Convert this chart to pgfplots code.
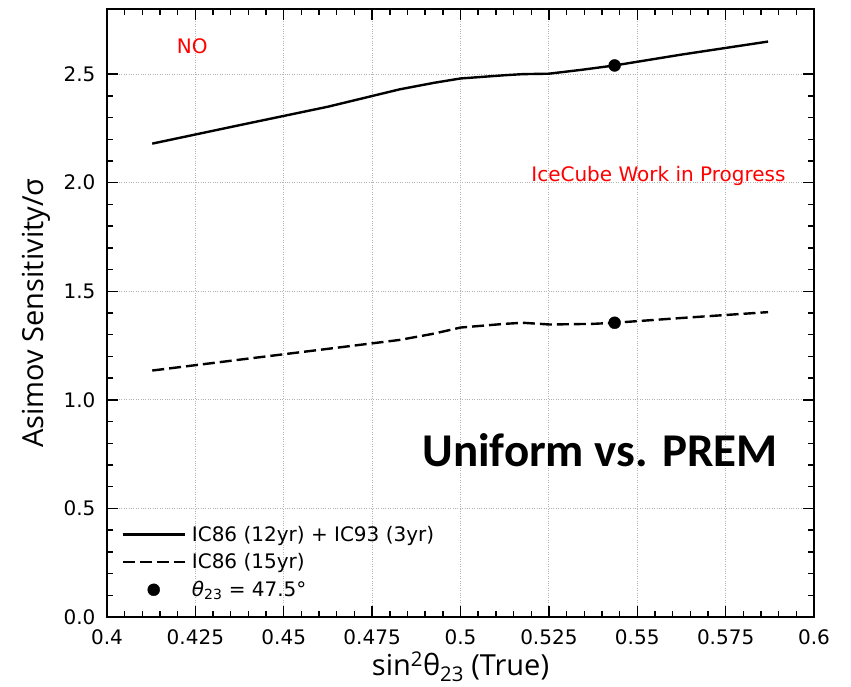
\documentclass[border=0pt]{standalone}
\usepackage{fontspec}
\setmainfont{DejaVu Sans}
\newfontfamily\opensans{Open Sans}
\newfontfamily\carlito{Carlito}
\usepackage{pgfplots}
\pgfplotsset{compat=1.18}
\pgfplotsset{
    longline/.style={legend image code/.code={\draw[##1] (0pt,0pt) -- (62pt,0pt);}},
    dotlegend/.style={legend image code/.code={\fill[black] (31pt,0pt) circle (6pt);}},
}

\begin{document}
\begin{tikzpicture}
\begin{axis}[
    scale only axis,
    width=707pt, height=608pt,
    xmin=0.4, xmax=0.6, ymin=0, ymax=2.8,
    xtick={0.4,0.425,0.45,0.475,0.5,0.525,0.55,0.575,0.6},
    xticklabels={0.4,0.425,0.45,0.475,0.5,0.525,0.55,0.575,0.6},
    ytick={0,0.5,1,1.5,2,2.5},
    yticklabels={0.0,0.5,1.0,1.5,2.0,2.5},
    minor x tick num=4, minor y tick num=4,
    tick align=inside, tick pos=both,
    major tick length=11pt, minor tick length=6pt,
    tick style={black, line width=1.4pt},
    axis line style={line width=2pt},
    grid=major,
    major grid style={dotted, black!30, line width=0.9pt},
    ticklabel style={font=\fontsize{20}{24}\selectfont},
    xticklabel style={yshift=-9pt},
    yticklabel style={xshift=-8pt},
    xlabel={{\opensans sin\textsuperscript{2}θ\textsubscript{23} (True)}},
    ylabel={{\opensans Asimov Sensitivity/σ}},
    label style={font=\opensans\fontsize{29}{34}\selectfont},
    xlabel style={yshift=0pt},
    ylabel style={yshift=6pt},
    legend style={at={(0.016,0.024)}, anchor=south west, draw=none, fill=none,
        font=\fontsize{20}{24}\selectfont, row sep=7pt,
        nodes={inner xsep=6pt}},
    legend cell align=left,
]
\addplot[black, line width=2.4pt, longline]
coordinates {
    (0.4128,2.18) (0.4375,2.265) (0.4625,2.35) (0.4828,2.43) (0.4925,2.46)
    (0.5,2.48) (0.5125,2.495) (0.5176,2.50) (0.525,2.502) (0.5343,2.52)
    (0.5436,2.54) (0.5625,2.59) (0.587,2.65)
};
\addlegendentry{IC86 (12yr) + IC93 (3yr)}
\addplot[black, line width=2.4pt, dash pattern=on 12pt off 5pt, longline]
coordinates {
    (0.4128,1.135) (0.4375,1.185) (0.4625,1.235) (0.4828,1.276) (0.4925,1.305)
    (0.5,1.333) (0.5125,1.35) (0.5176,1.355) (0.5252,1.347) (0.5375,1.35)
    (0.5436,1.355) (0.5625,1.377) (0.587,1.404)
};
\addlegendentry{IC86 (15yr)}
\addplot[only marks, mark=*, mark size=6pt, black, dotlegend]
coordinates {(0.5436,2.54) (0.5436,1.355)};
\addlegendentry{{\itshape θ}\textsubscript{23} = 47.5°}
\node[red, font=\fontsize{20}{24}\selectfont] at (axis cs:0.4241,2.63) {NO};
\node[red, font=\fontsize{20}{24}\selectfont] at (axis cs:0.556,2.03) {IceCube Work in Progress};
\node[font=\carlito\bfseries\fontsize{47}{50}\selectfont] at (axis cs:0.5395,0.77) {Uniform vs. PREM};
\end{axis}
\path ([shift={(-107pt,-70pt)}]current axis.south west) rectangle ([shift={(37pt,9pt)}]current axis.north east);
\end{tikzpicture}
\end{document}
